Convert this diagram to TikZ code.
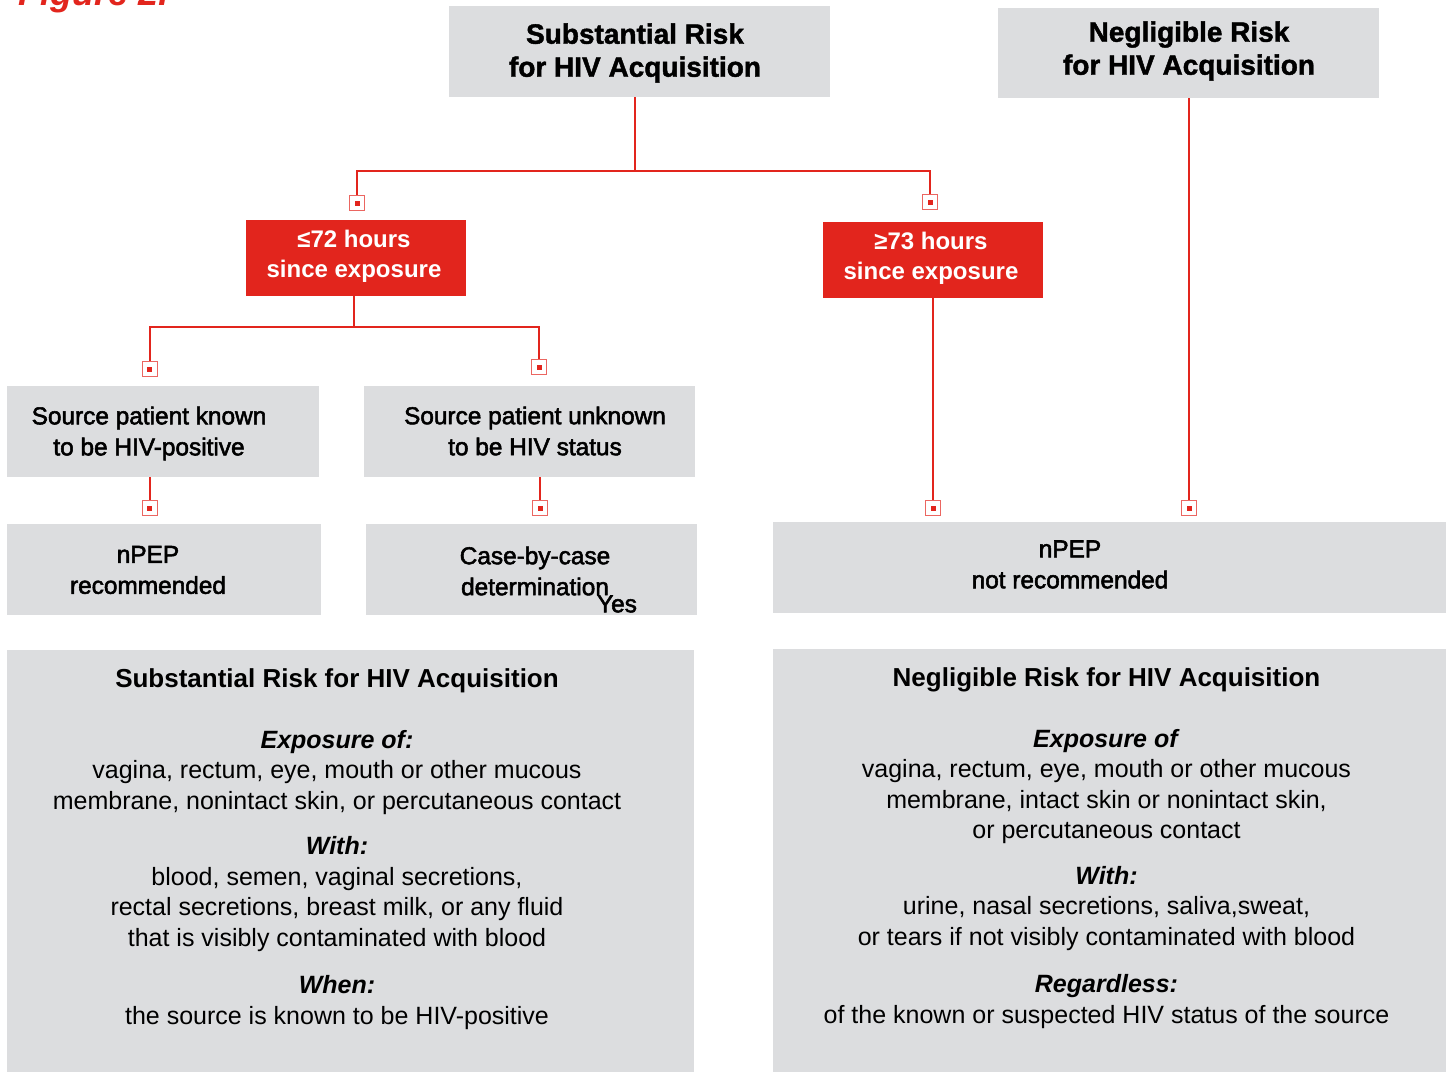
\documentclass[tikz,border=0pt]{standalone}
\usepackage{fontspec}
\setmainfont{Liberation Sans}
\newfontfamily\medfont{Liberation Sans}[RawFeature={embolden=2.2}]
\newfontfamily\heavyfont{Liberation Sans Bold}[RawFeature={embolden=1.5}]
\usetikzlibrary{positioning}
\definecolor{riskred}{RGB}{226,37,29}
\definecolor{panelgray}{RGB}{220,221,223}
\newcommand{\sqdot}{\textcolor{riskred}{\rule{2.5pt}{2.5pt}}}
\tikzset{
  link/.style={draw=riskred,line width=1.3pt},
  graybox/.style={fill=panelgray,inner sep=0pt},
  redbox/.style={fill=riskred,inner sep=0pt},
  endsq/.style={draw=riskred!70,line width=0.7pt,fill=white,minimum size=7.5pt,inner sep=0pt},
  headtxt/.style={font=\heavyfont\fontsize{14}{16.5}\selectfont,align=center,inner sep=0pt},
  redtxt/.style={font=\fontsize{12}{15}\selectfont\bfseries,text=white,align=center,inner sep=0pt},
  boxtxt/.style={font=\medfont\fontsize{12.2}{15.5}\selectfont,align=center,inner sep=0pt},
  paneltxt/.style={font=\fontsize{12.5}{15.25}\selectfont,align=center,anchor=north,inner sep=0pt},
}

\begin{document}
\begin{tikzpicture}[x=0.5pt,y=-0.5pt]
  \path[use as bounding box] (0,0) rectangle (1448,1072);
  \node[font=\fontsize{18}{20}\selectfont\bfseries\itshape,text=riskred,anchor=base west,inner sep=0pt]
    (FIG) at (18,5) {Figure 2.};

  % top row
  \node[graybox,minimum width=190.5pt,minimum height=45.5pt] (SUBST) at (639.5,51.5) {};
  \node[headtxt] (SUBSTT) at (635,53) {Substantial Risk\\for HIV Acquisition};
  \node[graybox,minimum width=190.5pt,minimum height=45pt] (NEGL) at (1188.5,53) {};
  \node[headtxt] (NEGLT) at (1189,51) {Negligible Risk\\for HIV Acquisition};

  \node[redbox,minimum width=110pt,minimum height=38pt] (LE72) at (356,258) {};
  \node[redtxt] (LE72T) at (354,256) {≤72 hours\\since exposure};
  \node[redbox,minimum width=110pt,minimum height=38pt] (GE73) at (933,260) {};
  \node[redtxt] (GE73T) at (931,258.5) {≥73 hours\\since exposure};

  % source status
  \node[graybox,minimum width=156pt,minimum height=45.5pt] (KNOWN) at (163,431.5) {};
  \node[boxtxt] (KNOWNT) at (149,433.5) {Source patient known\\to be HIV-positive};
  \node[graybox,minimum width=165.5pt,minimum height=45.5pt] (UNKNOWN) at (529.5,431.5) {};
  \node[boxtxt] (UNKNOWNT) at (535,431) {Source patient unknown\\to be HIV status};

  % outcomes
  \node[graybox,minimum width=157pt,minimum height=45.5pt] (REC) at (164,569.5) {};
  \node[boxtxt] (RECT) at (148,570) {nPEP\\recommended};
  \node[graybox,minimum width=165.5pt,minimum height=45.5pt] (CASE) at (531.5,569.5) {};
  \node[boxtxt] (CASET) at (535,571) {Case-by-case\\determination};
  \node[boxtxt] (YES) at (617,604) {Yes};
  \node[graybox,minimum width=336.5pt,minimum height=45.5pt] (NOTREC) at (1109.5,567.5) {};
  \node[boxtxt] (NOTRECT) at (1070,564.5) {nPEP\\not recommended};

  % end squares
  \node[endsq] (M1) at (357,203) {\sqdot};
  \node[endsq] (M2) at (930,202) {\sqdot};
  \node[endsq] (M3) at (150,369) {\sqdot};
  \node[endsq] (M4) at (539,367) {\sqdot};
  \node[endsq] (M5) at (150,508) {\sqdot};
  \node[endsq] (M6) at (540,508) {\sqdot};
  \node[endsq] (M7) at (933,508) {\sqdot};
  \node[endsq] (M8) at (1189,508) {\sqdot};

  \coordinate (J1) at (635,171);
  \coordinate (J2) at (354,327);
  \draw[link] (J1 |- SUBST.south) -- (J1) -| (M1.north);
  \draw[link] (J1) -| (M2.north);
  \draw[link] (J2 |- LE72.south) -- (J2) -| (M3.north);
  \draw[link] (J2) -| (M4.north);
  \draw[link] (M5 |- KNOWN.south) -- (M5.north);
  \draw[link] (M6 |- UNKNOWN.south) -- (M6.north);
  \draw[link] (M7 |- GE73.south) -- (M7.north);
  \draw[link] (M8 |- NEGL.south) -- (M8.north);

  % definition panels
  \node[graybox,minimum width=343.5pt,minimum height=212.5pt,anchor=north west] (LEFTP) at (7,650) {};
  \node[graybox,minimum width=336.5pt,minimum height=213pt,anchor=north west] (RIGHTP) at (773,649) {};

  \node[paneltxt] (LEFTT) at (337,668)
    {{\fontsize{13}{15.25}\selectfont\bfseries Substantial Risk for HIV Acquisition}\\[15.25pt]
     \textbf{\textit{Exposure of:}}\\
     vagina, rectum, eye, mouth or other mucous\\
     membrane, nonintact skin, or percutaneous contact\\[7.5pt]
     \textbf{\textit{With:}}\\
     blood, semen, vaginal secretions,\\
     rectal secretions, breast milk, or any fluid\\
     that is visibly contaminated with blood\\[8.5pt]
     \textbf{\textit{When:}}\\
     the source is known to be HIV-positive};
  \node[paneltxt] (RIGHTT) at (1106.5,667)
    {{\fontsize{13}{15.25}\selectfont\bfseries Negligible Risk for HIV Acquisition}\\[15.25pt]
     \textbf{\textit{Exposure of}}\\
     vagina, rectum, eye, mouth or other mucous\\
     membrane, intact skin or nonintact skin,\\
     or percutaneous contact\\[7.5pt]
     \textbf{\textit{With:}}\\
     urine, nasal secretions, saliva,sweat,\\
     or tears if not visibly contaminated with blood\\[8.5pt]
     \textbf{\textit{Regardless:}}\\
     of the known or suspected HIV status of the source};
\end{tikzpicture}
\end{document}
